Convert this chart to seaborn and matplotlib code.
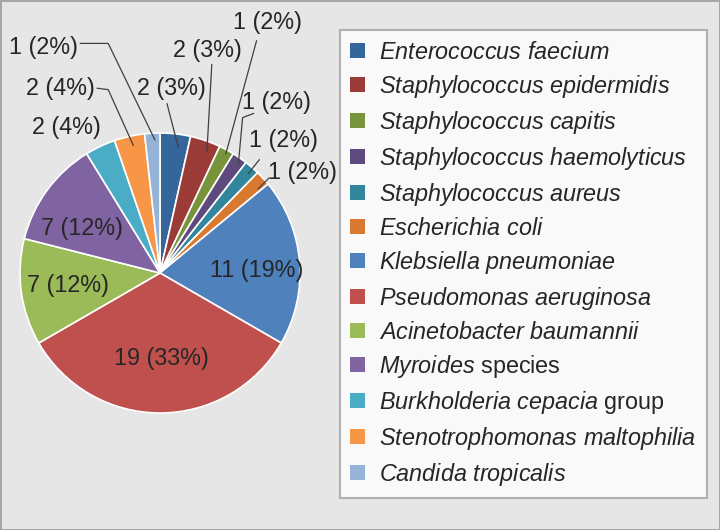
import matplotlib
matplotlib.use('Agg')
import matplotlib.pyplot as plt
import seaborn as sns

# organisms, counts and the data label text shown on the chart
organisms = [
    r'$\it{Enterococcus\ faecium}$',
    r'$\it{Staphylococcus\ epidermidis}$',
    r'$\it{Staphylococcus\ capitis}$',
    r'$\it{Staphylococcus\ haemolyticus}$',
    r'$\it{Staphylococcus\ aureus}$',
    r'$\it{Escherichia\ coli}$',
    r'$\it{Klebsiella\ pneumoniae}$',
    r'$\it{Pseudomonas\ aeruginosa}$',
    r'$\it{Acinetobacter\ baumannii}$',
    r'$\it{Myroides}$ species',
    r'$\it{Burkholderia\ cepacia}$ group',
    r'$\it{Stenotrophomonas\ maltophilia}$',
    r'$\it{Candida\ tropicalis}$',
]
counts = [2, 2, 1, 1, 1, 1, 11, 19, 7, 7, 2, 2, 1]
pct_labels = ['3%', '3%', '2%', '2%', '2%', '2%', '19%', '33%', '12%', '12%', '4%', '4%', '2%']
colors = ['#34659b', '#9a3b38', '#77933c', '#5f4a7e', '#31859c', '#d9782f',
          '#4f81bd', '#c0504d', '#9bbb59', '#8064a2', '#4bacc6', '#f79646', '#95b3d7']

# label placement (pie radius = 1), and leader line paths
label_pos = [(0.08, 1.32), (0.34, 1.59), (0.77, 1.79), (0.83, 1.22), (0.88, 0.95),
             (1.02, 0.72), (0.69, 0.02), (0.01, -0.61), (-0.66, -0.09), (-0.56, 0.32),
             (-0.67, 1.04), (-0.71, 1.32), (-0.83, 1.61)]
leaders = [
    [(0.13, 0.90), (0.05, 1.21)],
    [(0.335, 0.865), (0.37, 1.49)],
    [(0.47, 0.85), (0.69, 1.66)],
    [(0.56, 0.78), (0.59, 1.11), (0.67, 1.14)],
    [(0.63, 0.71), (0.71, 0.81)],
    [(0.70, 0.60), (0.78, 0.68)],
    None, None, None, None, None,
    [(-0.19, 0.91), (-0.37, 1.31), (-0.45, 1.32)],
    [(-0.036, 0.95), (-0.37, 1.64), (-0.57, 1.64)],
]

sns.set_theme(style='white')
plt.rcParams['font.family'] = ['Liberation Sans', 'DejaVu Sans']
plt.rcParams['mathtext.fontset'] = 'custom'
plt.rcParams['mathtext.it'] = 'Liberation Sans:italic'
plt.rcParams['mathtext.rm'] = 'Liberation Sans'
palette = sns.color_palette(colors)
txt_color = '#262626'

fig = plt.figure(figsize=(7.2, 5.3), dpi=100)
fig.patch.set_facecolor('#e6e6e6')
fig.patch.set_edgecolor('#a6a6a6')
fig.patch.set_linewidth(2)

ax = fig.add_axes([0, 0, 1, 1])
wedges, _ = ax.pie(counts, colors=palette, startangle=90, counterclock=False,
                   radius=1, wedgeprops=dict(edgecolor='white', linewidth=1.2))

for n, p, xy, path in zip(counts, pct_labels, label_pos, leaders):
    ax.text(xy[0], xy[1], f'{n} ({p})', ha='center', va='center',
            fontsize=16.8, color=txt_color)
    if path:
        xs, ys = zip(*path)
        ax.plot(xs, ys, color='#404040', lw=0.9)

# map data units so that the pie sits at (160, 273) px with 140 px radius
ax.set_xlim(-160 / 140, (720 - 160) / 140)
ax.set_ylim((273 - 530) / 140, 273 / 140)
ax.set_aspect('auto')
ax.axis('off')

leg = fig.legend(wedges, organisms, loc='upper left', bbox_to_anchor=(0.472, 0.943),
                 frameon=True, fancybox=False, fontsize=16.8, labelcolor=txt_color,
                 handlelength=0.64, handleheight=0.64, handletextpad=0.6,
                 labelspacing=0.385, borderpad=0.45, borderaxespad=0)
leg.get_frame().set_facecolor('white')
leg.get_frame().set_edgecolor('#a0a0a0')
leg.get_frame().set_linewidth(1.5)
for h in leg.legend_handles:
    h.set_edgecolor('none')

fig.savefig('out.png', dpi=100, facecolor=fig.get_facecolor(), edgecolor=fig.get_edgecolor())
